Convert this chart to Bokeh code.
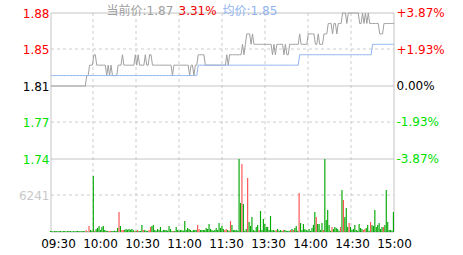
import math
from bokeh.plotting import figure
from bokeh.models import ColumnDataSource, Range1d
from bokeh.core.properties import value
from bokeh.embed import file_html
from bokeh.resources import INLINE

# ---------------- data ----------------
prev_close = 1.81
pct_ticks = [3.87, 1.93, 0.00, -1.93, -3.87]
price_tick_labels = ["1.88", "1.85", "1.81", "1.77", "1.74"]
pct_tick_labels = ["+3.87%", "+1.93%", "0.00%", "-1.93%", "-3.87%"]
vol_tick = 6241
vol_tick_label = "6241"
time_ticks = [0, 30, 60, 90, 120, 150, 180, 210, 240]
time_labels = ["09:30", "10:00", "10:30", "11:00", "11:30", "13:30", "14:00", "14:30", "15:00"]
title_parts = ["当前价:1.87", "3.31%", "均价:1.85"]

# one value per minute, 09:30 .. 11:30 | 13:01 .. 15:00 (241 points)
price = [
    1.81, 1.81, 1.81, 1.81, 1.81, 1.81, 1.81, 1.81, 1.81, 1.81,
    1.81, 1.81, 1.81, 1.81, 1.81, 1.81, 1.81, 1.81, 1.81, 1.81,
    1.81, 1.81, 1.81, 1.81, 1.81, 1.82, 1.82, 1.83, 1.83, 1.83,
    1.84, 1.84, 1.83, 1.83, 1.83, 1.83, 1.83, 1.83, 1.83, 1.82,
    1.83, 1.82, 1.83, 1.82, 1.82, 1.82, 1.82, 1.83, 1.83, 1.83,
    1.84, 1.83, 1.83, 1.83, 1.83, 1.83, 1.83, 1.83, 1.83, 1.84,
    1.83, 1.84, 1.83, 1.83, 1.83, 1.83, 1.84, 1.83, 1.83, 1.84,
    1.84, 1.83, 1.83, 1.83, 1.83, 1.83, 1.83, 1.83, 1.83, 1.83,
    1.83, 1.83, 1.83, 1.83, 1.83, 1.82, 1.83, 1.83, 1.83, 1.83,
    1.83, 1.83, 1.83, 1.83, 1.83, 1.83, 1.83, 1.82, 1.83, 1.83,
    1.82, 1.83, 1.83, 1.84, 1.84, 1.84, 1.84, 1.84, 1.83, 1.83,
    1.83, 1.83, 1.83, 1.83, 1.83, 1.83, 1.83, 1.83, 1.83, 1.83,
    1.83, 1.83, 1.83, 1.84, 1.83, 1.84, 1.84, 1.84, 1.84, 1.84,
    1.84, 1.84, 1.84, 1.84, 1.85, 1.84, 1.85, 1.86, 1.86, 1.86,
    1.85, 1.86, 1.85, 1.85, 1.85, 1.85, 1.85, 1.85, 1.85, 1.85,
    1.85, 1.85, 1.85, 1.85, 1.85, 1.84, 1.85, 1.84, 1.85, 1.85,
    1.85, 1.85, 1.85, 1.84, 1.85, 1.84, 1.84, 1.85, 1.85, 1.85,
    1.85, 1.85, 1.85, 1.85, 1.86, 1.85, 1.85, 1.85, 1.85, 1.85,
    1.86, 1.86, 1.86, 1.86, 1.86, 1.85, 1.85, 1.86, 1.85, 1.85,
    1.85, 1.86, 1.86, 1.86, 1.87, 1.87, 1.87, 1.86, 1.87, 1.87,
    1.86, 1.87, 1.87, 1.87, 1.88, 1.88, 1.88, 1.87, 1.88, 1.88,
    1.88, 1.88, 1.88, 1.88, 1.88, 1.88, 1.87, 1.87, 1.88, 1.87,
    1.88, 1.87, 1.88, 1.87, 1.87, 1.87, 1.87, 1.87, 1.87, 1.87,
    1.86, 1.86, 1.86, 1.87, 1.87, 1.87, 1.87, 1.87, 1.87, 1.87,
    1.87,
]

avg_price = [
    1.82, 1.82, 1.82, 1.82, 1.82, 1.82, 1.82, 1.82, 1.82, 1.82,
    1.82, 1.82, 1.82, 1.82, 1.82, 1.82, 1.82, 1.82, 1.82, 1.82,
    1.82, 1.82, 1.82, 1.82, 1.82, 1.82, 1.82, 1.82, 1.82, 1.82,
    1.82, 1.82, 1.82, 1.82, 1.82, 1.82, 1.82, 1.82, 1.82, 1.82,
    1.82, 1.82, 1.82, 1.82, 1.82, 1.82, 1.82, 1.82, 1.82, 1.82,
    1.82, 1.82, 1.82, 1.82, 1.82, 1.82, 1.82, 1.82, 1.82, 1.82,
    1.82, 1.82, 1.82, 1.82, 1.82, 1.82, 1.82, 1.82, 1.82, 1.82,
    1.82, 1.82, 1.82, 1.82, 1.82, 1.82, 1.82, 1.82, 1.82, 1.82,
    1.82, 1.82, 1.82, 1.82, 1.82, 1.82, 1.82, 1.82, 1.82, 1.82,
    1.82, 1.82, 1.82, 1.82, 1.82, 1.82, 1.82, 1.82, 1.82, 1.82,
    1.82, 1.82, 1.82, 1.83, 1.83, 1.83, 1.83, 1.83, 1.83, 1.83,
    1.83, 1.83, 1.83, 1.83, 1.83, 1.83, 1.83, 1.83, 1.83, 1.83,
    1.83, 1.83, 1.83, 1.83, 1.83, 1.83, 1.83, 1.83, 1.83, 1.83,
    1.83, 1.83, 1.83, 1.83, 1.83, 1.83, 1.83, 1.83, 1.83, 1.83,
    1.83, 1.83, 1.83, 1.83, 1.83, 1.83, 1.83, 1.83, 1.83, 1.83,
    1.83, 1.83, 1.83, 1.83, 1.83, 1.83, 1.83, 1.83, 1.83, 1.83,
    1.83, 1.83, 1.83, 1.83, 1.83, 1.83, 1.83, 1.83, 1.83, 1.83,
    1.83, 1.83, 1.83, 1.83, 1.84, 1.84, 1.84, 1.84, 1.84, 1.84,
    1.84, 1.84, 1.84, 1.84, 1.84, 1.84, 1.84, 1.84, 1.84, 1.84,
    1.84, 1.84, 1.84, 1.84, 1.84, 1.84, 1.84, 1.84, 1.84, 1.84,
    1.84, 1.84, 1.84, 1.84, 1.84, 1.84, 1.84, 1.84, 1.84, 1.84,
    1.84, 1.84, 1.84, 1.84, 1.84, 1.84, 1.84, 1.84, 1.84, 1.84,
    1.84, 1.84, 1.84, 1.84, 1.84, 1.85, 1.85, 1.85, 1.85, 1.85,
    1.85, 1.85, 1.85, 1.85, 1.85, 1.85, 1.85, 1.85, 1.85, 1.85,
    1.85,
]

volume = [
    170, 150, 100, 150, 150, 100, 150, 150, 100, 150,
    150, 100, 150, 150, 150, 100, 150, 100, 150, 150,
    150, 100, 150, 150, 120, 300, 100, 1030, 340, 200,
    9580, 170, 510, 680, 1030, 340, 855, 1030, 340, 200,
    170, 170, 170, 170, 170, 200, 150, 680, 3420, 1030,
    340, 340, 400, 510, 400, 510, 400, 510, 340, 170,
    200, 340, 170, 170, 1200, 340, 340, 200, 170, 340,
    855, 1030, 1200, 340, 200, 510, 340, 855, 170, 340,
    340, 340, 200, 1030, 510, 170, 170, 170, 855, 340,
    200, 340, 340, 200, 1880, 340, 680, 510, 340, 170,
    340, 340, 340, 1200, 510, 340, 340, 340, 340, 680,
    510, 1370, 510, 340, 200, 340, 680, 340, 1540, 680,
    1030, 510, 340, 510, 340, 200, 1880, 1200, 340, 340,
    340, 200, 12482, 4960, 11630, 4790, 200, 510, 9230, 1710,
    1030, 2565, 340, 200, 855, 1200, 340, 3590, 340, 2220,
    1370, 855, 855, 340, 2740, 340, 340, 200, 340, 510,
    200, 340, 170, 340, 340, 200, 170, 200, 340, 510,
    340, 680, 1030, 200, 6670, 1540, 340, 1370, 510, 340,
    200, 510, 170, 680, 1200, 3420, 2565, 1370, 1370, 340,
    1540, 340, 12482, 2050, 3760, 1200, 200, 855, 510, 855,
    680, 510, 200, 855, 7180, 5470, 2565, 4100, 855, 1540,
    855, 340, 510, 1200, 340, 200, 1370, 680, 510, 340,
    510, 680, 1200, 200, 1710, 1200, 1030, 3760, 855, 1200,
    1540, 510, 855, 855, 1200, 7180, 1710, 340, 340, 200,
    3420,
]

# minutes whose volume bar is red (up tick); all others are green
red_bars = [25, 27, 31, 41, 42, 48, 50, 51, 59, 61, 65, 69, 70, 86, 103, 104,
            122, 123, 126, 134, 138, 146, 158, 163, 168, 170, 174, 186, 191,
            197, 203, 205, 209, 219, 220, 224, 233]

# ---------------- layout / style ----------------
W, H = 463, 255
FL, FR = 50.5, 393.5         # frame left / right line centres (px)
FT, PB, FB = 12.5, 158.5, 231.5   # frame top, price-pane bottom, frame bottom (px)
N_MIN = 240

RED = "#ff0000"
GREEN = "#00e000"
BAR_GREEN = "#00a800"
BAR_RED = "#ff5050"
GRID = "#cccccc"
SOLID = "#c4c4c4"
FONT = "DejaVu Sans, Noto Sans CJK SC"
FS = "12px"

p_top = prev_close * (1 + pct_ticks[0] / 100)
p_low = prev_close * (1 + pct_ticks[-1] / 100)
per_px = (p_top - p_low) / (PB - FT)
vol_max = 2 * vol_tick


def py(pix):
    """canvas y (px from top) -> price units"""
    return p_top - (pix - FT) * per_px


def px(pix):
    """canvas x (px from left) -> minute units"""
    return (pix - FL) * N_MIN / (FR - FL)


def vy(pix):
    """canvas y (px from top) -> volume units"""
    return (FB - pix) * vol_max / (FB - PB)


def ypix_of_price(v):
    return FT + (p_top - v) / per_px


def snap(pix):
    return math.floor(pix - 0.5) + 0.5


p = figure(width=W, height=H, x_range=Range1d(px(0), px(W)), y_range=Range1d(py(H), py(0)),
           x_axis_type=None, y_axis_type=None, toolbar_location=None,
           output_backend="svg", min_border=0)
p.extra_y_ranges = {"vol": Range1d(vy(H), vy(0))}
p.outline_line_color = None
p.background_fill_color = "white"
p.border_fill_color = "white"

x0, x1 = 0, N_MIN
y_top, y_bot = py(FT), py(FB)

# dashed grid
vx = [px(snap(FL + t * (FR - FL) / N_MIN)) for t in time_ticks[1:-1]]
p.segment(x0=vx, y0=[y_top] * len(vx), x1=vx, y1=[y_bot] * len(vx),
          line_color=GRID, line_dash="3 3", line_width=1)
hy = [py(snap(ypix_of_price(prev_close * (1 + pc / 100)))) for pc in [1.93, -1.93]]
hy.append(py(snap((PB + FB) / 2)))
p.segment(x0=[x0] * len(hy), y0=hy, x1=[x1] * len(hy), y1=hy,
          line_color=GRID, line_dash="3 3", line_width=1)

# solid frame + separators
sy = [y_top, py(snap(ypix_of_price(prev_close) + 0.5)), py(PB), y_bot]
p.segment(x0=[x0] * len(sy), y0=sy, x1=[x1] * len(sy), y1=sy, line_color=SOLID, line_width=1)
p.segment(x0=[x0, x1], y0=[y_top, y_top], x1=[x0, x1], y1=[y_bot, y_bot],
          line_color=SOLID, line_width=1)

# volume bars
mins = list(range(len(volume)))
bar_colors = [BAR_RED if i in red_bars else BAR_GREEN for i in mins]
vsrc = ColumnDataSource(dict(x=[m - 0.4 for m in mins], top=volume, color=bar_colors))
p.vbar(x="x", top="top", bottom=0, width=0.8, fill_color="color", line_color=None,
       source=vsrc, y_range_name="vol")

# price and average lines
p.line(list(range(len(price))), price, line_color="#a0a0a0", line_width=1)
p.line(list(range(len(avg_price))), avg_price, line_color="#8fb4f0", line_width=1)

# left price labels / right percent labels
tick_prices = [prev_close * (1 + pc / 100) for pc in pct_ticks]
tick_colors = [RED, RED, "#000000", GREEN, GREEN]
p.text(x=[px(49)] * 5, y=tick_prices, text=price_tick_labels, text_color=tick_colors,
       text_align="right", text_baseline="middle",
       text_font=value(FONT), text_font_size=value(FS))
p.text(x=[px(49)], y=[vol_tick], text=[vol_tick_label], text_color="#c8c8c8",
       text_align="right", text_baseline="middle", y_range_name="vol",
       text_font=value(FONT), text_font_size=value(FS))
p.text(x=[px(396)] * 5, y=tick_prices, text=pct_tick_labels, text_color=tick_colors,
       text_align="left", text_baseline="middle",
       text_font=value(FONT), text_font_size=value(FS))

# time labels (evenly spread, first centred at 58px, last at 394px)
tx = [px(58 + k * (394 - 58) / (len(time_labels) - 1)) for k in range(len(time_labels))]
p.text(x=tx, y=[py(243.5)] * len(tx), text=time_labels, text_color="#000000",
       text_align="center", text_baseline="alphabetic",
       text_font=value(FONT), text_font_size=value(FS))

# header texts
p.text(x=[px(106), px(178), px(222)], y=[py(10.5)] * 3, text=title_parts,
       text_color=["#a0a0a0", "#ee0000", "#8fb4f0"],
       text_align="left", text_baseline="alphabetic",
       text_font=value(FONT), text_font_size=value(FS))

open("out.html", "w").write(file_html(p, INLINE))
